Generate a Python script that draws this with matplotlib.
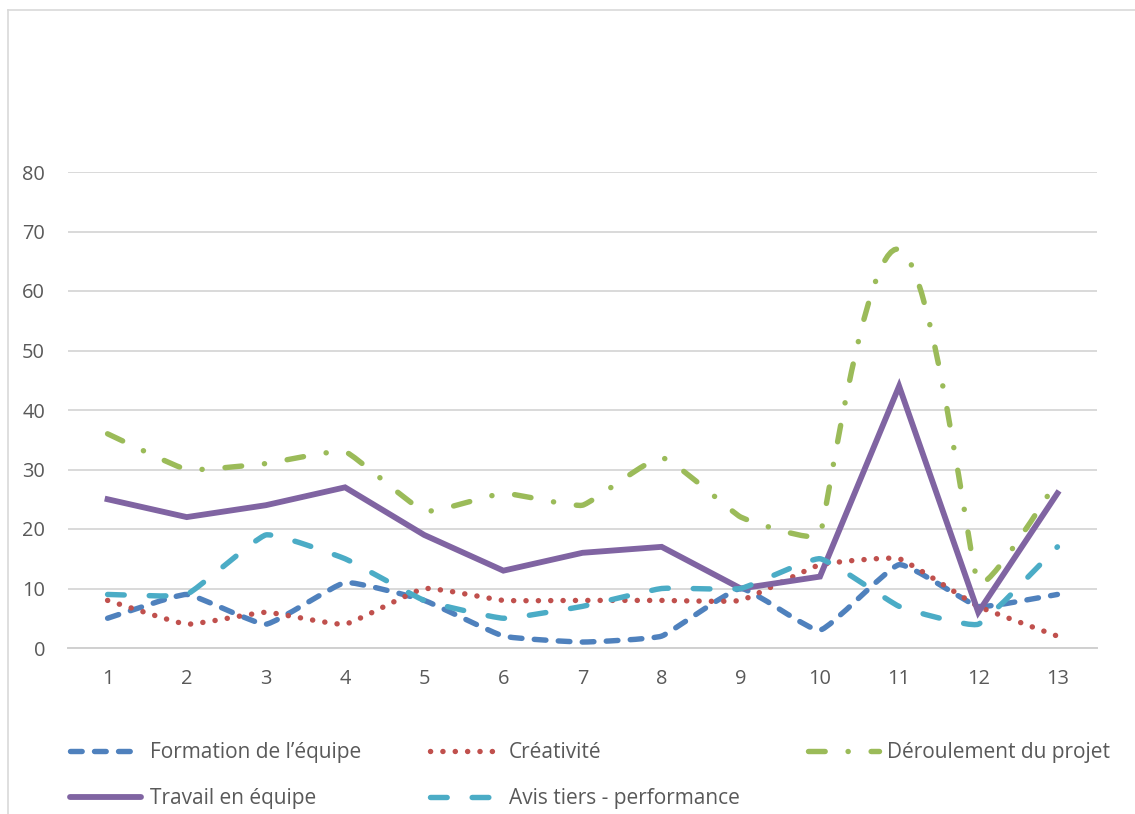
import numpy as np
import matplotlib.pyplot as plt
from matplotlib.path import Path
from matplotlib.patches import PathPatch
from matplotlib.lines import Line2D

plt.rcParams['font.family'] = ['Open Sans', 'DejaVu Sans']

categories = list(range(1, 14))
formation = [5, 9, 4, 11, 8, 2, 1, 2, 10, 3, 14, 7, 9]
creativite = [8, 4, 6, 4, 10, 8, 8, 8, 8, 14, 15, 7, 2]
deroulement = [36, 30, 31, 33, 23, 26, 24, 32, 22, 19, 67, 11, 28]
travail = [25, 22, 24, 27, 19, 13, 16, 17, 10, 12, 44, 6, 26]
avis = [9, 9, 19, 15, 8, 5, 7, 10, 10, 15, 7, 4, 17]

names = ["Formation de l\u2019équipe", "Créativité", "Déroulement du projet",
         "Travail en équipe", "Avis tiers - performance"]
colors = ["#4F81BD", "#C0504D", "#9BBB59", "#8064A2", "#4BACC6"]

LW = 3.9
# dash patterns in points, divided by linewidth (matplotlib scales them)
def dash(*pts):
    return (0, tuple(p / LW for p in pts))

styles = [dash(8.4, 8.9), dash(0.1, 8.8), dash(12, 16.5, 0.1, 16.5),
          '-', dash(12, 18)]

# pixel size of one data unit, used to shape the smoothing like on screen
SX, SY = 1029 / 13, 476 / 80


def smooth_path(x, y, k=0.12):
    # Excel-like smoothed line, cubic Bezier with short tangents
    pts = np.column_stack([np.asarray(x) * SX, np.asarray(y) * SY]).astype(float)
    n = len(pts)
    seg = np.linalg.norm(np.diff(pts, axis=0), axis=1)
    tang = []
    for i in range(n):
        t = pts[min(i + 1, n - 1)] - pts[max(i - 1, 0)]
        t = t / np.linalg.norm(t)
        ds = [seg[j] for j in (i - 1, i) if 0 <= j < n - 1]
        tang.append(t * k * min(ds))
    verts = [pts[0]]
    codes = [Path.MOVETO]
    for i in range(n - 1):
        verts += [pts[i] + tang[i], pts[i + 1] - tang[i + 1], pts[i + 1]]
        codes += [Path.CURVE4] * 3
    verts = np.array(verts) / [SX, SY]
    return Path(verts, codes)


fig = plt.figure(figsize=(11.35, 8.14), dpi=100)
ax = fig.add_axes([68 / 1135, (814 - 648) / 814, 1029 / 1135, 476 / 814])

series = [formation, creativite, deroulement, travail, avis]
handles = []
for vals, name, c, ls in zip(series, names, colors, styles):
    if ls == '-':
        ax.plot(categories, vals, color=c, lw=LW + 0.3, solid_joinstyle='miter', zorder=3)
    else:
        patch = PathPatch(smooth_path(categories, vals), fill=False, edgecolor=c,
                          lw=LW, linestyle=ls, capstyle='round', zorder=3)
        ax.add_patch(patch)
    handles.append(Line2D([], [], color=c, lw=LW if ls != '-' else LW + 0.3,
                          linestyle=ls, dash_capstyle='round',
                          solid_capstyle='round', label=name))

ax.set_xlim(0.5, 13.5)
ax.set_ylim(0, 80)
ax.set_xticks(categories)
ax.set_yticks(range(0, 81, 10))
ax.grid(axis='y', color='#d9d9d9', lw=1.4)
ax.set_axisbelow(True)
for s in ['top', 'right', 'left']:
    ax.spines[s].set_visible(False)
ax.spines['bottom'].set_color('#d0d0d0')
ax.spines['bottom'].set_linewidth(1.4)
ax.tick_params(length=0, labelsize=14.4, labelcolor='#595959')
ax.tick_params(axis='y', pad=16.5)
ax.tick_params(axis='x', pad=15)

# chart border
fig.add_artist(Line2D([8 / 1135, 1], [1 - 10 / 814, 1 - 10 / 814], color='#d9d9d9', lw=1.2))
fig.add_artist(Line2D([8 / 1135, 8 / 1135], [0, 1 - 10 / 814], color='#d9d9d9', lw=1.2))

order = [0, 3, 1, 4, 2]
leg = fig.legend([handles[i] for i in order], [names[i] for i in order],
                 ncol=3, loc='upper left', bbox_to_anchor=(62 / 1135, 1 - 734 / 814),
                 borderaxespad=0, frameon=False, fontsize=15, handlelength=3.37,
                 handletextpad=0.43, columnspacing=3.3, labelspacing=1.2,
                 labelcolor='#595959')

fig.savefig('out.png', dpi=100)
